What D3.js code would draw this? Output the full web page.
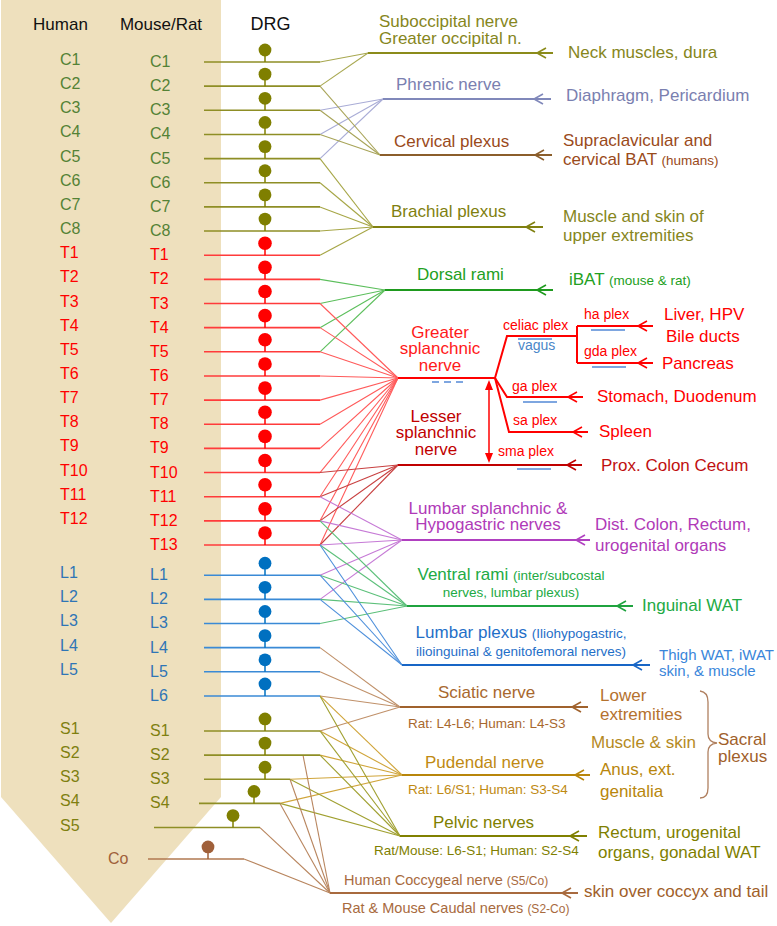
<!DOCTYPE html>
<html><head><meta charset="utf-8">
<script src="https://cdn.jsdelivr.net/npm/d3@7"></script>
<style>body{margin:0;background:#fff}svg{display:block}text{font-family:"Liberation Sans",Arial,Helvetica,sans-serif}</style>
</head><body><svg id="c" width="777" height="926"></svg>
<script>
// ---------------- DATA ----------------
const spinalRows = ["C1","C2","C3","C4","C5","C6","C7","C8",
  "T1","T2","T3","T4","T5","T6","T7","T8","T9","T10","T11","T12","T13",
  "L1","L2","L3","L4","L5","L6","S1","S2","S3","S4","S5","Co"];
const mouseRatLevels = ["C1","C2","C3","C4","C5","C6","C7","C8",
  "T1","T2","T3","T4","T5","T6","T7","T8","T9","T10","T11","T12","T13",
  "L1","L2","L3","L4","L5","L6","S1","S2","S3","S4"];
const humanLevels = ["C1","C2","C3","C4","C5","C6","C7","C8",
  "T1","T2","T3","T4","T5","T6","T7","T8","T9","T10","T11","T12",
  "L1","L2","L3","L4","L5","S1","S2","S3","S4","S5","Co"];
const headers = ["Human","Mouse/Rat","DRG"];

const nerveIds = ["suboccipital","phrenic","cervical","brachial","dorsal","greater","lesser",
  "lumbarSplanchnic","ventral","lumbarPlexus","sciatic","pudendal","pelvic","coccygeal"];
const nerveSources = [
  ["C1","C2"],
  ["C3","C4","C5"],
  ["C2","C3","C4"],
  ["C5","C6","C7","C8","T1"],
  ["T2","T3","T4","T5"],
  ["T3","T4","T5","T6","T7","T8","T9","T10","T11","T12","T13"],
  ["T10","T11","T12","T13"],
  ["T11","T12","T13","L1","L2"],
  ["T12","T13","L1","L2","L3"],
  ["T13","L1","L2"],
  ["L4","L5","L6","S1"],
  ["L6","S1","S2","S3","S4"],
  ["L6","S1","S2","S3","S4"],
  ["S2","S3","S4","S5","Co"]
];
const nerveLabels = [
  ["Suboccipital nerve","Greater occipital n."],
  ["Phrenic nerve"],
  ["Cervical plexus"],
  ["Brachial plexus"],
  ["Dorsal rami"],
  ["Greater","splanchnic","nerve"],
  ["Lesser","splanchnic","nerve"],
  ["Lumbar splanchnic &","Hypogastric nerves"],
  ["Ventral rami |(inter/subcostal","|nerves,  lumbar plexus)"],
  ["Lumbar plexus |(Iliohypogastric,","|ilioinguinal  & genitofemoral nerves)"],
  ["Sciatic nerve"],
  ["Pudendal nerve"],
  ["Pelvic nerves"],
  ["Human  Coccygeal nerve |(S5/Co)","Rat & Mouse  Caudal nerves |(S2-Co)"]
];
const nerveSubLabels = [null,null,null,null,null,null,null,null,null,null,
  "Rat: L4-L6; Human: L4-S3","Rat: L6/S1; Human: S3-S4","Rat/Mouse: L6-S1; Human: S2-S4",null];
const nerveTargets = [
  ["Neck muscles, dura"],
  ["Diaphragm, Pericardium"],
  ["Supraclavicular and","cervical BAT |(humans)"],
  ["Muscle and skin of","upper extremities"],
  ["iBAT |(mouse & rat)"],
  null,
  ["Prox. Colon Cecum"],
  ["Dist. Colon, Rectum,","urogenital organs"],
  ["Inguinal WAT"],
  ["Thigh WAT, iWAT","skin, & muscle"],
  ["Lower","extremities"],
  ["Anus, ext.","genitalia"],
  ["Rectum, urogenital","organs, gonadal WAT"],
  ["skin over coccyx and tail"]
];
const plexusNames = ["celiac plex","vagus","ha plex","gda plex","ga plex","sa plex","sma plex"];
const plexusTargets = [["Liver, HPV","Bile ducts"],["Pancreas"],["Stomach, Duodenum"],["Spleen"]];
const sacralTexts = ["Muscle & skin","Sacral","plexus"];

// ---------------- LAYOUT / STYLE ----------------
const svg = d3.select("#c");
const groupOf = r => r === "Co" ? "Co" : r[0];
const gapOf = {C:0, T:0, L:0.25, S:0.7, Co:1.0};
const slot = r => { const i = spinalRows.indexOf(r); return (r === "S5") ? 31.7 : (r === "Co" ? 33.0 : i + gapOf[groupOf(r)]); };
const yScale = d3.scaleLinear().domain([0, 20]).range([62, 545]);
const rowY = r => yScale(slot(r));

const rowStyle = {
  C:{label:"#548235", hlabel:"#548235", dot:"#7F7F00", line:"#8E8E25"},
  T:{label:"#FF0000", hlabel:"#FF0000", dot:"#FF0000", line:"#FF3B3B"},
  L:{label:"#2E75B6", hlabel:"#2E75B6", dot:"#0070C0", line:"#3A8AD6"},
  S:{label:"#7F7F10", hlabel:"#7F7F10", dot:"#7F7F00", line:"#8E8E25"},
  Co:{label:"#A0603A", hlabel:"#A0603A", dot:"#A0603A", line:"#B07850"}
};
const startX = r => ({S4:199, S5:154, Co:148}[r] || 204);
const endX = r => ({S3:290, S4:280, S5:260, Co:244}[r] || 320);
const drgX = r => ({S4:254, S5:233, Co:208}[r] || 265);

const NL = {
 suboccipital:{jx:368,y:53,tip:537,end:553,lx:379,anchor:"start",ly:[27,44],tx:568,ty:[58],
   text:"#86861C",line:"#8B8B1A",fan:"#A8A850",target:"#86861C"},
 phrenic:{jx:383,y:99,tip:534,end:551,lx:396,anchor:"start",ly:[90],tx:566,ty:[101],
   text:"#7A80B0",line:"#8088BA",fan:"#A9ACD6",target:"#7A80B0"},
 cervical:{jx:380,y:155,tip:535,end:552,lx:394,anchor:"start",ly:[147],tx:563,ty:[146,165],
   text:"#9A4A1A",line:"#8B5E2B",fan:"#A8A458",target:"#9A4A1A"},
 brachial:{jx:373,y:227,tip:526,end:543,lx:391,anchor:"start",ly:[217],tx:563,ty:[222,241],
   text:"#7F7F10",line:"#808010",fan:"#A6A646",target:"#86861C"},
 dorsal:{jx:385,y:290,tip:537,end:553,lx:417,anchor:"start",ly:[280],tx:569,ty:[285],
   text:"#22A022",line:"#1E9A1E",fan:"#5CBF5C",target:"#22A022"},
 greater:{jx:398,y:378,end:495,lx:440,anchor:"middle",ly:[338,354,371],
   text:"#FF1A1A",line:"#FF0000",fan:"#FF5A5A"},
 lesser:{jx:398,y:465,tip:567,end:582,lx:436,anchor:"middle",ly:[422,438,455],tx:601,ty:[471],
   text:"#C00000",line:"#C00000",fan:"#C84040",target:"#C01010"},
 lumbarSplanchnic:{jx:402,y:540,tip:576,end:590,lx:488,anchor:"middle",ly:[514,530],tx:595,ty:[530,551],
   text:"#B03AB8",line:"#B040C0",fan:"#C67AD6",target:"#B03AB8"},
 ventral:{jx:407,y:606,tip:617,end:633,lx:511,anchor:"middle",ly:[580,597],tx:642,ty:[611],
   text:"#22AA44",line:"#1FA33F",fan:"#5CC07A",target:"#22AA44"},
 lumbarPlexus:{jx:402,y:665,tip:633,end:650,lx:521,anchor:"middle",ly:[638,656],tx:659,ty:[660,676],
   text:"#1F6FC8",line:"#1866C6",fan:"#4D8FDB",target:"#3A86DA",tsize:15},
 sciatic:{jx:400,y:707,tip:572,end:588,lx:438,anchor:"start",ly:[698],tx:600,ty:[701,720],sub:[408,728],
   text:"#A8682E",line:"#A0622D",fan:"#C0916A",target:"#B5722E"},
 pudendal:{jx:402,y:775,tip:575,end:590,lx:425,anchor:"start",ly:[768],tx:600,ty:[775,797],sub:[408,794],
   text:"#C08A12",line:"#B8860B",fan:"#D0A53A",target:"#B8860B"},
 pelvic:{jx:400,y:836,tip:570,end:587,lx:433,anchor:"start",ly:[828],tx:598,ty:[838,858],sub:[374,855],
   text:"#7F7F00",line:"#808000",fan:"#A0A030",target:"#7F7F00"},
 coccygeal:{jx:330,y:893,tip:562,end:578,lx:344,anchor:"start",ly:[885,913],lxs:[344,342],tx:584,ty:[897],
   text:"#A86A3E",line:"#A86A3E",fan:"#B8855E",target:"#A0602A",size:14.5,small:12}
};

// text helper: "|" switches the rest to the small size
function txt(g, x, y, str, o) {
  const t = g.append("text").attr("x", x).attr("y", y)
    .attr("fill", o.fill).attr("font-size", o.size || 17)
    .attr("text-anchor", o.anchor || "start");
  const parts = str.split("|");
  if (parts[0]) t.append("tspan").text(parts[0]);
  if (parts.length > 1) t.append("tspan").attr("font-size", o.small || 13.5).text(parts[1]);
  return t;
}
function chevron(g, tip, y, color) {
  g.append("path").attr("d", `M${tip+9},${y-5} L${tip},${y} L${tip+9},${y+5}`)
    .attr("fill","none").attr("stroke", color).attr("stroke-width", 1.6);
}

// background shape
svg.append("polygon").attr("points", "1,0 221,0 221,797 111,923 1,797").attr("fill", "#EEE0BD");

// headers
[[60.5,17],[161,17],[270.5,18]].forEach((p,i) =>
  txt(svg, p[0], 30, headers[i], {fill:"#111", size:p[1], anchor:"middle"}));

// fan lines
const gFan = svg.append("g");
nerveIds.forEach((id, k) => {
  const n = NL[id];
  nerveSources[k].forEach(r => {
    const x0 = (id === "coccygeal" && r === "S2") ? 303 : endX(r);
    gFan.append("line").attr("x1", x0).attr("y1", rowY(r)).attr("x2", n.jx).attr("y2", n.y)
      .attr("stroke", n.fan).attr("stroke-width", 1.1);
  });
});

// level rows: lines, DRG
const gRows = svg.append("g");
spinalRows.forEach(r => {
  const st = rowStyle[groupOf(r)], y = rowY(r);
  gRows.append("line").attr("x1", startX(r)).attr("x2", endX(r)).attr("y1", y).attr("y2", y)
    .attr("stroke", st.line).attr("stroke-width", 1.6);
  const cx = drgX(r);
  gRows.append("line").attr("x1", cx).attr("x2", cx).attr("y1", y - 11).attr("y2", y)
    .attr("stroke", st.dot).attr("stroke-width", 1.5);
  gRows.append("circle").attr("cx", cx).attr("cy", y - 12).attr("r", groupOf(r) === "T" ? 6.8 : 6.4)
    .attr("fill", st.dot);
});
// labels
mouseRatLevels.forEach(r => txt(svg, 150, rowY(r) + 5, r, {fill: rowStyle[groupOf(r)].label, size:16}));
humanLevels.forEach(r => {
  const co = r === "Co";
  txt(svg, co ? 108 : 60, rowY(r) + (co ? 5 : 3), r, {fill: rowStyle[groupOf(r)].hlabel, size:16});
});

// nerves: main lines, arrows, labels, targets
nerveIds.forEach((id, k) => {
  const n = NL[id];
  svg.append("line").attr("x1", n.jx).attr("x2", n.end).attr("y1", n.y).attr("y2", n.y)
    .attr("stroke", n.line).attr("stroke-width", 2.2);
  if (n.tip) chevron(svg, n.tip, n.y, n.line);
  nerveLabels[k].forEach((s, i) =>
    txt(svg, n.lxs ? n.lxs[i] : n.lx, n.ly[i], s, {fill:n.text, size:n.size || 17, small:n.small || 13.5, anchor:n.anchor}));
  if (nerveSubLabels[k]) txt(svg, n.sub[0], n.sub[1], nerveSubLabels[k], {fill:n.text, size:13.5});
  if (nerveTargets[k]) nerveTargets[k].forEach((s, i) =>
    txt(svg, n.tx, n.ty[i], s, {fill:n.target, size:n.tsize || 17, small:13.5}));
});

// celiac / plexus branches of the greater splanchnic nerve
const red = "#FF0000";
const gP = svg.append("g").attr("fill","none").attr("stroke", red).attr("stroke-width", 2);
gP.append("path").attr("d","M495,378 L507,336 L577,336");
gP.append("path").attr("d","M577,326 L577,363");
gP.append("path").attr("d","M577,326 L653,326");
gP.append("path").attr("d","M577,363 L653,363");
gP.append("path").attr("d","M495,378 L507,397 L583,397");
gP.append("path").attr("d","M495,378 L509,432 L588,432");
[[638,326],[638,363],[568,397],[573,432]].forEach(p => chevron(svg, p[0], p[1], red));

// plexus names
const plexPos = [[503,330],[518,350],[584,319],[584,356],[512,391],[513,425],[498,456]];
plexusNames.forEach((s, i) => txt(svg, plexPos[i][0], plexPos[i][1], s,
  {fill: s === "vagus" ? "#4A86C8" : red, size:14}));
// vagus underlines
const gB = svg.append("g").attr("stroke", "#7EA6E0").attr("stroke-width", 2);
[[518,552,339],[591,625,330],[592,626,367],[523,557,402],[517,551,469]].forEach(b =>
  gB.append("line").attr("x1", b[0]).attr("x2", b[1]).attr("y1", b[2]).attr("y2", b[2]));
gB.append("line").attr("x1", 432).attr("x2", 467).attr("y1", 382).attr("y2", 382).attr("stroke-dasharray", "7,5");

// plexus targets
const ptPos = [[664,[320,342]],[662,[369]],[597,[402]],[599,[437]]];
plexusTargets.forEach((lines, i) => lines.forEach((s, j) =>
  txt(svg, ptPos[i][0] + (j ? 2 : 0), ptPos[i][1][j], s, {fill: red, size:17})));

// double-headed arrow between greater and lesser splanchnic
svg.append("line").attr("x1", 489).attr("x2", 489).attr("y1", 386).attr("y2", 457)
  .attr("stroke", red).attr("stroke-width", 1.5);
svg.append("polygon").attr("points","489,380 485,390 493,390").attr("fill", red);
svg.append("polygon").attr("points","489,463 485,453 493,453").attr("fill", red);

// sacral plexus brace and texts
svg.append("path").attr("d","M700,691 Q708,692 708,702 L708,734 Q708,742 717,743 Q708,744 708,752 L708,788 Q708,798 700,798")
  .attr("fill","none").attr("stroke","#B08060").attr("stroke-width",1.3);
txt(svg, 591, 748, sacralTexts[0], {fill:"#B58A1E", size:17});
txt(svg, 718, 745, sacralTexts[1], {fill:"#A0602A", size:17});
txt(svg, 718, 762, sacralTexts[2], {fill:"#A0602A", size:17});
</script></body></html>
